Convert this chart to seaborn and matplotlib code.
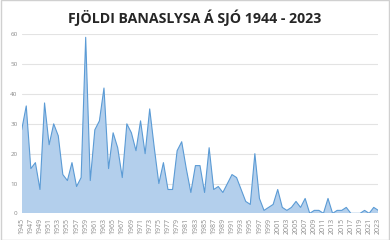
import matplotlib
matplotlib.use("Agg")
import matplotlib.pyplot as plt
import seaborn as sns
import pandas as pd
from matplotlib.patches import Rectangle

years = list(range(1945, 2024))
deaths = [28, 36, 15, 17, 8, 37, 23, 30, 26, 13,
          11, 17, 9, 12, 59, 11, 28, 31, 42, 15,
          27, 22, 12, 30, 27, 21, 31, 20, 35, 22,
          10, 17, 8, 8, 21, 24, 15, 7, 16, 16,
          7, 22, 8, 9, 7, 10, 13, 12, 8, 4,
          3, 20, 5, 1, 2, 3, 8, 2, 1, 2,
          4, 2, 5, 0, 1, 1, 0, 5, 0, 1,
          1, 2, 0, 0, 0, 1, 0, 2, 1]
title = "FJÖLDI BANASLYSA Á SJÓ 1944 - 2023"
tick_years = list(range(1945, 2024, 2))
y_ticks = [0, 10, 20, 30, 40, 50, 60]

df = pd.DataFrame({"year": years, "deaths": deaths})

sns.set_theme(style="white")
plt.rcParams["font.family"] = ["Open Sans", "DejaVu Sans"]
plt.rcParams["hatch.color"] = "#94b9e2"
plt.rcParams["hatch.linewidth"] = 0.6

fig = plt.figure(figsize=(3.9, 2.4), dpi=100)
fig.patch.set_facecolor("white")
fig.patches.append(Rectangle((0.002, 0.002), 0.996, 0.996, transform=fig.transFigure,
                             fill=False, edgecolor="#d0d0d0", linewidth=1.0))
ax = fig.add_axes([0.0556, 0.111, 0.9144, 0.746])

for v in y_ticks:
    ax.axhline(v, color="#e3e3e3", linewidth=0.8, zorder=0)

ax.fill_between(df["year"], df["deaths"], 0, facecolor="#b3cfec", edgecolor="#b3cfec",
                hatch="//////", linewidth=0, zorder=1)
sns.lineplot(data=df, x="year", y="deaths", ax=ax, color="#5b9bd5", linewidth=0.8, zorder=2)

ax.set_xlim(1945, 2023)
ax.set_ylim(0, 60)
ax.set_xticks(tick_years)
ax.set_xticklabels([str(y) for y in tick_years], rotation=90, fontsize=5.0, color="#8a8a8a")
ax.set_yticks(y_ticks)
ax.set_yticklabels([str(v) for v in y_ticks], fontsize=4.5, color="#8a8a8a")
ax.tick_params(axis="both", length=0, pad=3)
ax.set_xlabel("")
ax.set_ylabel("")
for s in ax.spines.values():
    s.set_visible(False)

fig.text(0.5, 0.928, title, ha="center", va="center", fontsize=10.2,
         fontweight="bold", color="#262626")

fig.savefig("out.png", dpi=100)
